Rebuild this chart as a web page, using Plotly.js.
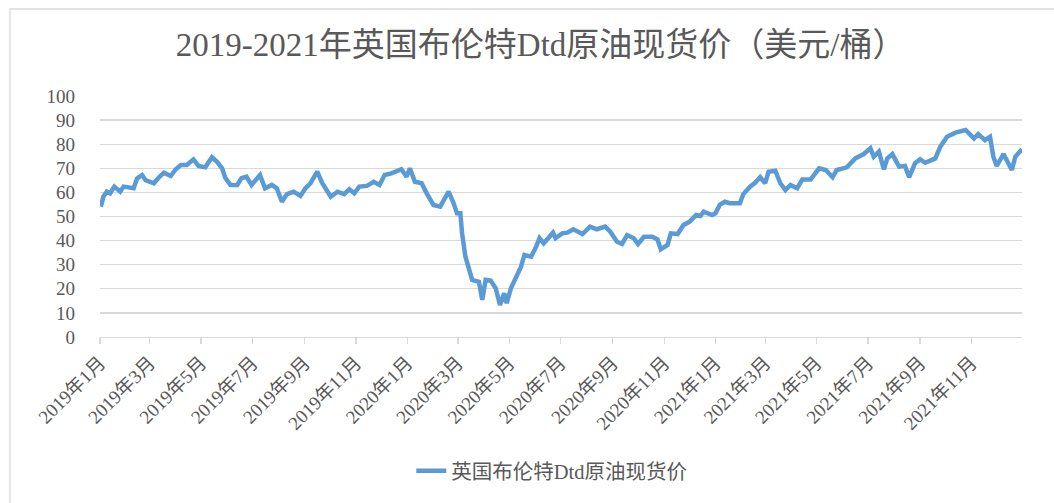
<!DOCTYPE html>
<html>
<head>
<meta charset="utf-8">
<script src="https://cdn.plot.ly/plotly-3.0.1.min.js"></script>
<style>html,body{margin:0;padding:0;background:#fff;}#chart{width:1054px;height:503px;}</style>
</head>
<body>
<div id="chart"></div>
<script>
const chartTitle = "2019-2021年英国布伦特Dtd原油现货价（美元/桶）";
const seriesName = "英国布伦特Dtd原油现货价";

const dates = [
"2019-01-02","2019-01-05","2019-01-09","2019-01-13","2019-01-18","2019-01-25","2019-01-29",
"2019-02-06","2019-02-10","2019-02-14","2019-02-20","2019-02-24",
"2019-03-06","2019-03-12","2019-03-18","2019-03-26",
"2019-04-01","2019-04-07","2019-04-14","2019-04-22","2019-04-28",
"2019-05-06","2019-05-14","2019-05-20","2019-05-26","2019-05-30",
"2019-06-05","2019-06-13","2019-06-18","2019-06-24","2019-06-30",
"2019-07-10","2019-07-16","2019-07-24","2019-07-30",
"2019-08-05","2019-08-11","2019-08-19","2019-08-27",
"2019-09-02","2019-09-08","2019-09-16","2019-09-22",
"2019-10-02","2019-10-10","2019-10-18","2019-10-24","2019-10-30",
"2019-11-05","2019-11-14","2019-11-22","2019-11-29",
"2019-12-05","2019-12-13","2019-12-19","2019-12-25","2019-12-31",
"2020-01-04","2020-01-10","2020-01-18","2020-01-24",
"2020-02-01","2020-02-09","2020-02-19","2020-02-25","2020-02-29",
"2020-03-04","2020-03-06","2020-03-10","2020-03-16","2020-03-18","2020-03-26","2020-03-30",
"2020-04-03","2020-04-09","2020-04-15","2020-04-20","2020-04-25","2020-04-28",
"2020-05-03","2020-05-09","2020-05-15","2020-05-19","2020-05-27",
"2020-06-02","2020-06-06","2020-06-11","2020-06-17","2020-06-22","2020-06-25",
"2020-07-03","2020-07-09","2020-07-16","2020-07-27",
"2020-08-05","2020-08-13","2020-08-23","2020-08-29",
"2020-09-06","2020-09-12","2020-09-18","2020-09-26",
"2020-10-01","2020-10-08","2020-10-18","2020-10-24","2020-10-28",
"2020-11-05","2020-11-09","2020-11-17","2020-11-24",
"2020-12-01","2020-12-09","2020-12-14","2020-12-18","2020-12-28",
"2021-01-01","2021-01-06","2021-01-12","2021-01-18","2021-01-30",
"2021-02-03","2021-02-11","2021-02-17","2021-02-23",
"2021-03-01","2021-03-05","2021-03-13","2021-03-19","2021-03-25","2021-03-31",
"2021-04-08","2021-04-14","2021-04-24",
"2021-05-04","2021-05-12","2021-05-20","2021-05-25",
"2021-06-06","2021-06-16","2021-06-26",
"2021-07-04","2021-07-08","2021-07-14","2021-07-20","2021-07-24","2021-07-30",
"2021-08-07","2021-08-14","2021-08-19","2021-08-26",
"2021-09-01","2021-09-07","2021-09-13","2021-09-19","2021-09-25",
"2021-10-03","2021-10-13","2021-10-25",
"2021-11-04","2021-11-09","2021-11-17","2021-11-23","2021-11-27",
"2021-12-01","2021-12-09","2021-12-13","2021-12-19","2021-12-23","2021-12-31"
];

const prices = [
54.1,58.2,60.3,59.6,62.4,60.3,62.4,
61.7,61.7,65.8,67.2,65.1,
63.8,66.3,68.2,66.8,
69.6,71.4,71.4,73.7,71.0,
70.4,74.6,72.7,70.0,65.9,
63.1,63.1,65.9,66.5,63.1,
67.2,61.7,63.1,61.7,
56.1,59.3,60.3,58.5,
61.7,63.8,68.6,63.8,
58.2,60.3,59.3,61.3,59.6,
62.4,62.7,64.4,63.1,
67.2,67.9,68.6,69.6,66.5,
70.0,64.4,63.8,59.6,
54.8,54.1,60.3,55.5,51.3,
51.3,43.0,33.3,27.1,23.7,22.9,15.4,
23.7,23.4,20.2,13.3,18.1,14.0,
20.2,25.0,29.2,34.0,33.3,
37.5,41.0,38.9,41.6,43.3,41.0,
43.0,43.3,44.7,42.7,
45.8,44.7,45.8,43.7,
39.5,38.6,42.3,41.0,
38.6,41.6,41.6,40.5,36.4,
38.2,43.0,42.7,46.5,
47.8,50.6,50.2,52.0,50.6,
51.3,54.8,56.1,55.5,55.5,
59.3,62.4,64.0,66.3,
63.8,68.6,69.0,63.8,61.0,63.1,
61.7,65.4,65.4,
70.0,69.3,66.3,69.3,
70.4,74.1,75.9,
78.3,74.8,76.9,69.6,74.1,75.9,
70.7,71.0,66.3,72.1,
73.7,72.3,73.2,74.1,79.0,
83.1,84.8,85.9,
82.4,84.2,81.7,83.1,74.8,
71.0,75.9,73.4,69.3,74.8,77.9
];

const xRange = ["2019-01-01", "2021-12-31"];
const yTicks = [0,10,20,30,40,50,60,70,80,90,100];

const fontFam = '"Liberation Serif", "Times New Roman", "Noto Sans CJK SC", serif';
const txt = '#595959';

const trace = {
  type: 'scatter', mode: 'lines', name: seriesName,
  x: dates, y: prices,
  line: {color: '#5B9BD5', width: 4.5, shape: 'linear'}
};

const layout = {
  width: 1054, height: 503,
  margin: {l: 100, r: 32, t: 96, b: 166},
  paper_bgcolor: '#ffffff', plot_bgcolor: '#ffffff',
  font: {family: fontFam, color: txt},
  title: {text: chartTitle, x: 0.513, xanchor: 'center', y: 0.912, yanchor: 'middle', yref: 'container',
          font: {family: fontFam, size: 33, color: txt}},
  xaxis: {
    type: 'date', range: xRange, tick0: '2019-01-01', dtick: 'M2',
    tickformat: '%Y年%-m月', tickangle: -45,
    showgrid: false, zeroline: false,
    showline: true, linecolor: '#D9D9D9', linewidth: 1.3,
    ticks: 'outside', ticklen: 6, tickcolor: '#D9D9D9', tickwidth: 1.3,
    tickfont: {family: fontFam, size: 19, color: txt}
  },
  yaxis: {
    range: [0, 100], tickvals: yTicks, ticktext: yTicks.map(String),
    showgrid: true, gridcolor: '#D9D9D9', gridwidth: 1.3,
    zeroline: false, showline: false, ticks: '',
    ticklabelstandoff: 24,
    tickfont: {family: fontFam, size: 19, color: txt}
  },
  showlegend: true,
  legend: {orientation: 'h', x: 0.49, xanchor: 'center', y: -0.556, yanchor: 'middle',
           font: {family: fontFam, size: 20.5, color: txt}, bgcolor: 'rgba(0,0,0,0)'},
  shapes: [{type: 'rect', xref: 'paper', yref: 'paper',
            x0: (10 - 100) / 922, x1: (1070 - 100) / 922,
            y0: (337 - 520) / 241, y1: (337 - 9) / 241,
            line: {color: '#D9D9D9', width: 1.3}, fillcolor: 'rgba(0,0,0,0)', layer: 'below'}]
};

Plotly.newPlot('chart', [trace], layout, {staticPlot: true, displayModeBar: false});
</script>
</body>
</html>
